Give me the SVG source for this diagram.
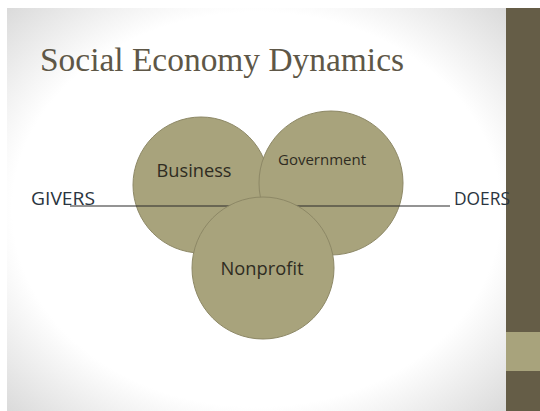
<svg xmlns="http://www.w3.org/2000/svg" width="540" height="411" viewBox="0 0 540 411">
  <defs>
    <radialGradient id="bg" cx="50%" cy="50%" r="72%">
      <stop offset="0" stop-color="#ffffff"/>
      <stop offset="0.68" stop-color="#ffffff"/>
      <stop offset="1" stop-color="#d8d8d8"/>
    </radialGradient>
    <style>
      .circle { fill: #a8a37c; stroke: #8d8866; stroke-width: 1; }
      .label { font-family: "Open Sans", "Liberation Sans", sans-serif; fill: #2f2c22; text-anchor: middle; }
      .side { font-family: "Open Sans", "Liberation Sans", sans-serif; font-size: 18px; fill: #2a3440; }
      .axis { stroke: #2a2a2a; stroke-width: 1.2; fill: none; }
    </style>
  </defs>

  <!-- page border and slide background -->
  <rect x="0" y="0" width="540" height="411" fill="#ffffff"/>
  <rect x="7" y="8" width="499" height="403" fill="url(#bg)"/>

  <!-- right side bar -->
  <rect x="506" y="8" width="34" height="403" fill="#655d47"/>
  <rect x="506" y="332" width="34" height="39" fill="#a8a37c"/>

  <!-- title -->
  <text x="40" y="71" font-family="'Liberation Serif', 'DejaVu Serif', serif" font-size="34" fill="#5e5747" textLength="364" lengthAdjust="spacingAndGlyphs">Social Economy Dynamics</text>

  <g id="business">
    <circle class="circle" cx="201" cy="185" r="68"/>
  </g>
  <g id="government">
    <circle class="circle" cx="331" cy="183" r="72"/>
  </g>

  <g id="connectors">
    <line class="axis" x1="70" y1="206" x2="450" y2="206"/>
  </g>

  <g id="nonprofit">
    <circle class="circle" cx="263" cy="268" r="71"/>
    <text class="label" x="262" y="275" font-size="18" textLength="83" lengthAdjust="spacingAndGlyphs">Nonprofit</text>
  </g>

  <!-- circle labels drawn on top -->
  <text class="label" x="194" y="177" font-size="18" textLength="75" lengthAdjust="spacingAndGlyphs">Business</text>
  <text class="label" x="322" y="165" font-size="15" textLength="88" lengthAdjust="spacingAndGlyphs">Government</text>

  <g id="givers">
    <text class="side" x="31" y="205" textLength="64" lengthAdjust="spacingAndGlyphs">GIVERS</text>
  </g>
  <g id="doers">
    <text class="side" x="454" y="205" textLength="56" lengthAdjust="spacingAndGlyphs">DOERS</text>
  </g>
</svg>
